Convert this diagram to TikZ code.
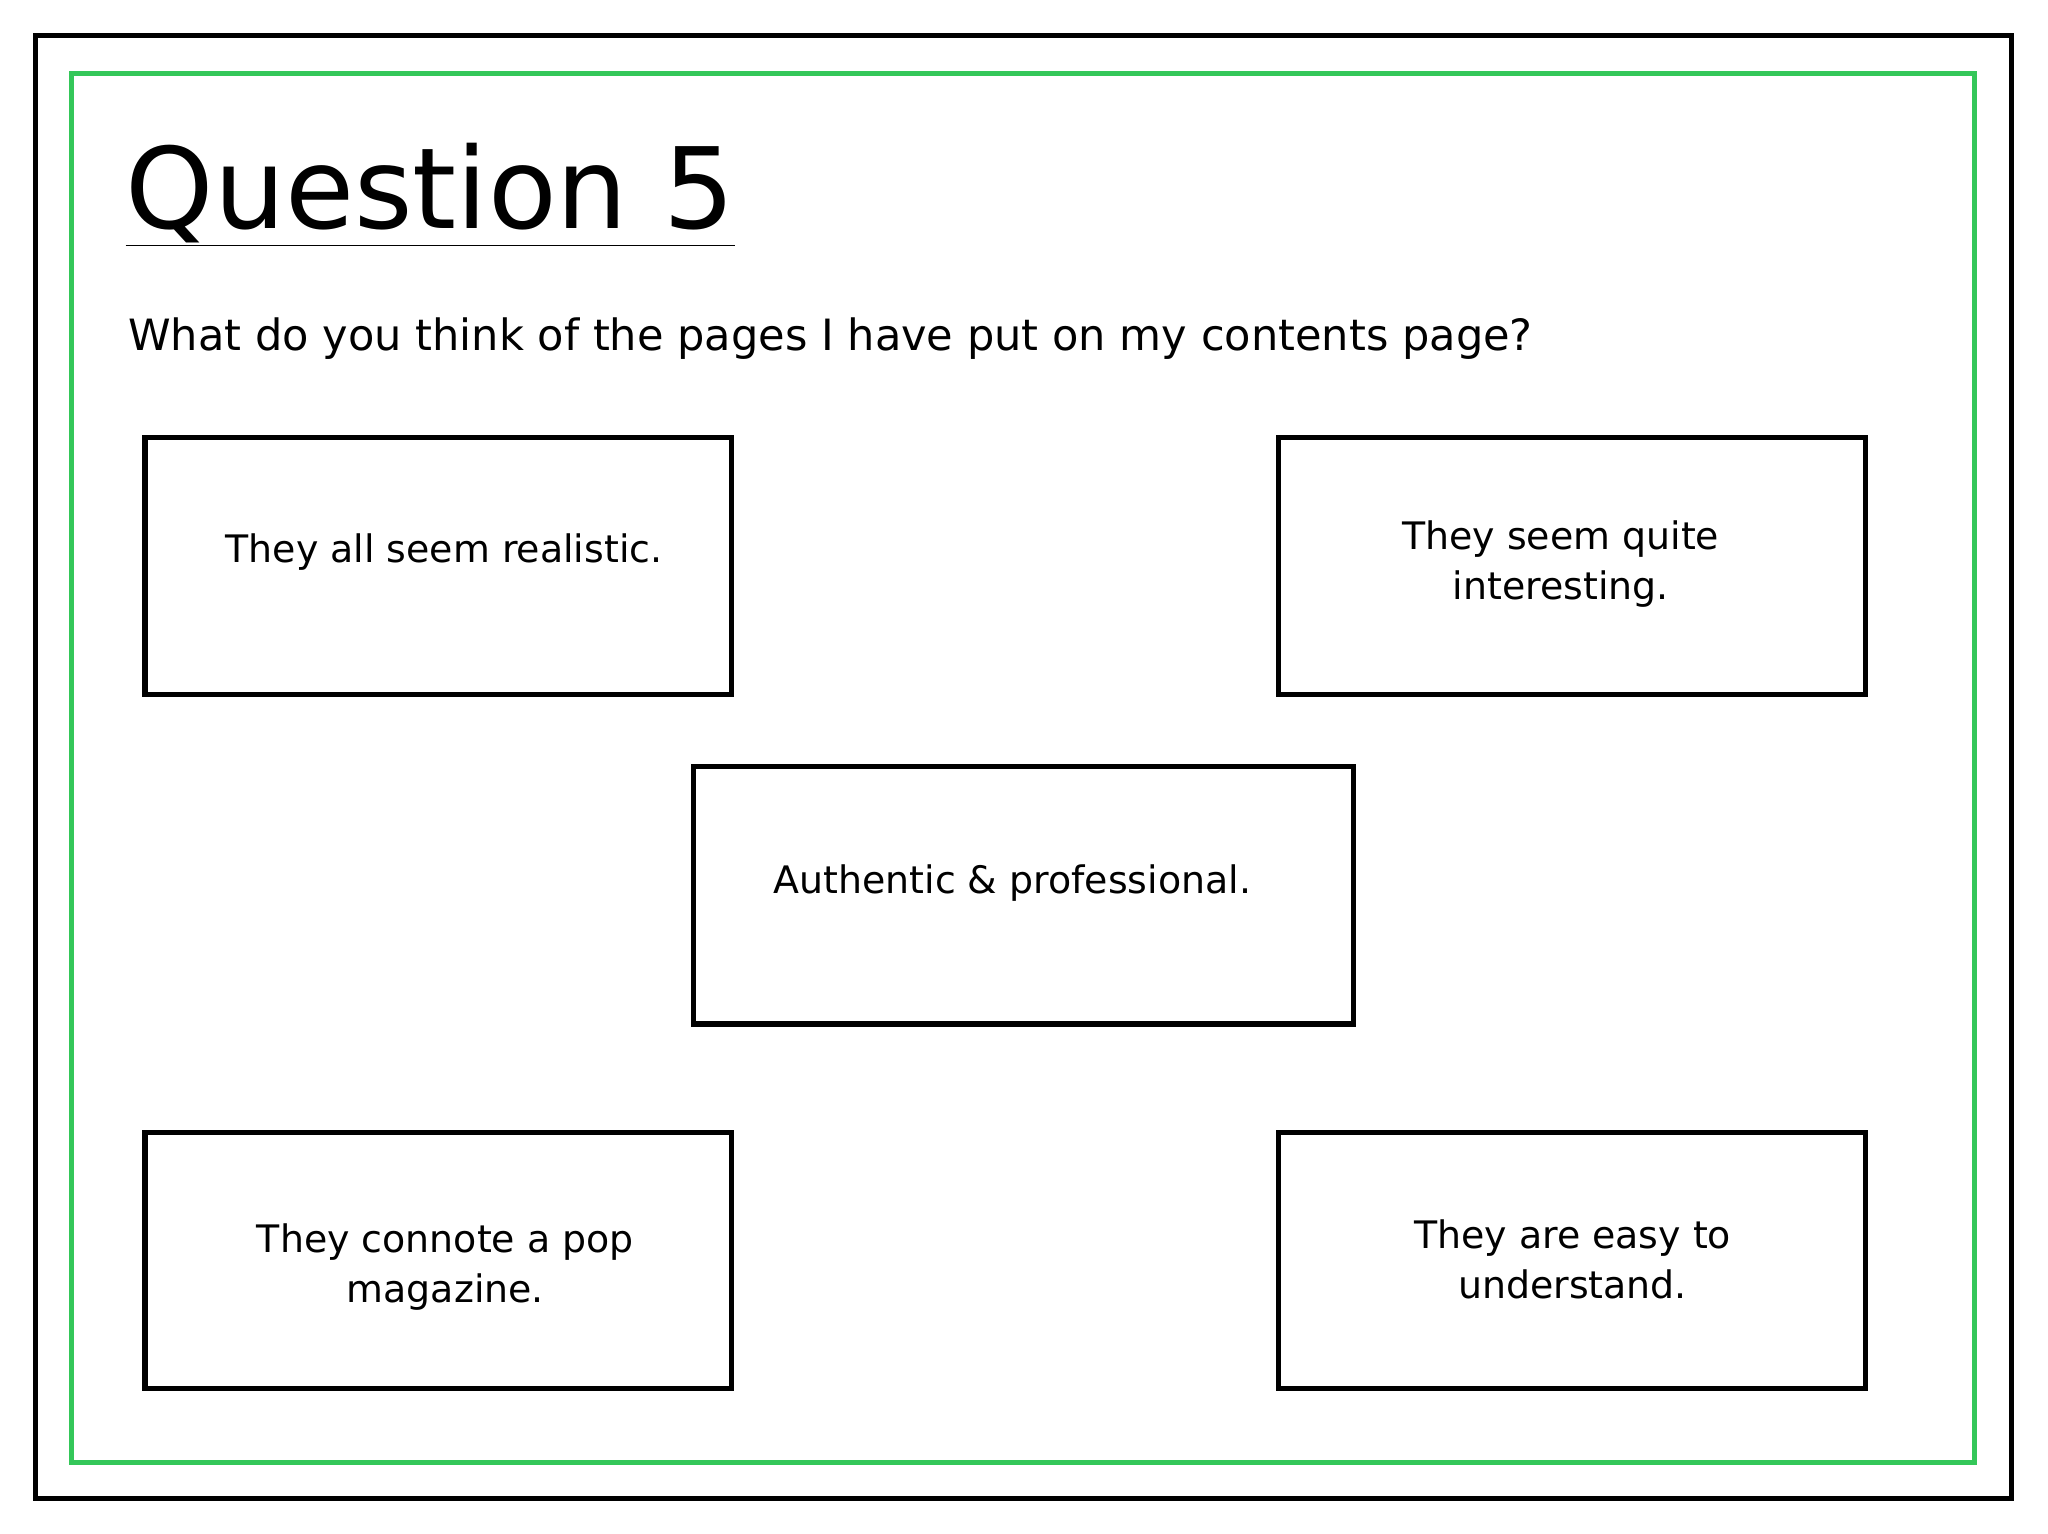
\documentclass[tikz,border=0pt]{standalone}
\usepackage{fontspec}
\setmainfont{DejaVu Sans}
\definecolor{gr}{RGB}{52,199,89}
\begin{document}
\begin{tikzpicture}[x=1pt,y=-1pt,
  card/.style={draw=black,line width=4pt},
  lbl/.style={align=center,font=\fontsize{29}{38}\selectfont,inner sep=0pt}]
\useasboundingbox (0,0) rectangle (1568,1174);
\fill[white] (0,0) rectangle (1568,1174);
\draw[line width=4pt] (27,27) rectangle (1540,1147);
\draw[gr,line width=4pt] (55,56) rectangle (1512,1120);
\node[anchor=base west,inner sep=0pt,font=\fontsize{86}{90}\selectfont] (title) at (96,175) {\underline{Question 5}};
\node[anchor=base west,inner sep=0pt,font=\fontsize{33}{40}\selectfont] (q) at (98,268) {What do you think of the pages I have put on my contents page?};
\draw[card] (111,335) rectangle (560,532);
\node[lbl] (a) at (340,423) {They all seem realistic.};
\draw[card] (979,335) rectangle (1428,532);
\node[lbl] (b) at (1195,432) {They seem quite\\interesting.};
\draw[card] (531,587) rectangle (1036,784);
\node[lbl] (c) at (775,676) {Authentic \& professional.};
\draw[card] (111,867) rectangle (560,1063);
\node[lbl] (d) at (341,970) {They connote a pop\\magazine.};
\draw[card] (979,867) rectangle (1428,1063);
\node[lbl] (e) at (1204,964) {They are easy to\\understand.};
\end{tikzpicture}
\end{document}
